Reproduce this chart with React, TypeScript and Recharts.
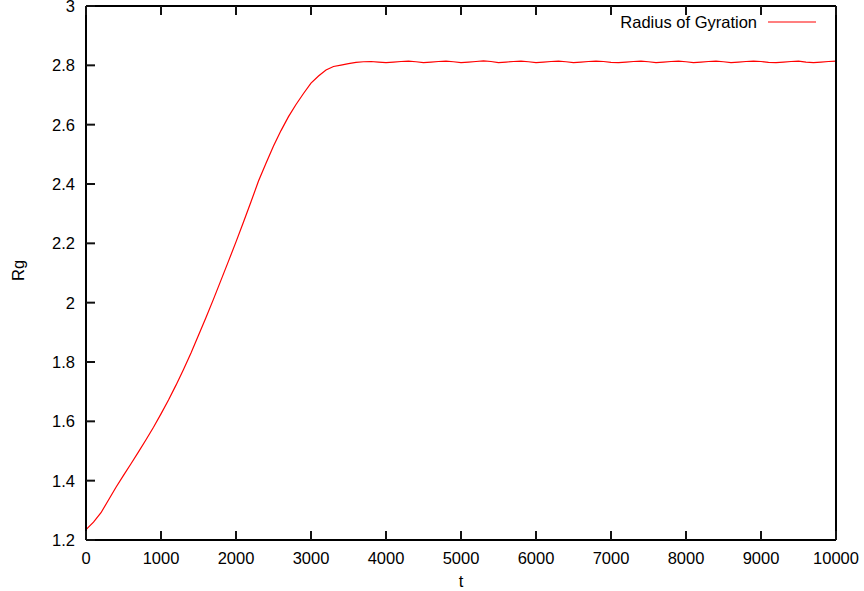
import { LineChart, Line, XAxis, YAxis } from "recharts";

// time steps and radius of gyration
const times = [
  0, 100, 200, 300, 400, 500, 600, 700, 800, 900,
  1000, 1100, 1200, 1300, 1400, 1500, 1600, 1700, 1800, 1900,
  2000, 2100, 2200, 2300, 2400, 2500, 2600, 2700, 2800, 2900,
  3000, 3100, 3200, 3300, 3400, 3500, 3600, 3700, 3800, 3900,
  4000, 4100, 4200, 4300, 4400, 4500, 4600, 4700, 4800, 4900,
  5000, 5100, 5200, 5300, 5400, 5500, 5600, 5700, 5800, 5900,
  6000, 6100, 6200, 6300, 6400, 6500, 6600, 6700, 6800, 6900,
  7000, 7100, 7200, 7300, 7400, 7500, 7600, 7700, 7800, 7900,
  8000, 8100, 8200, 8300, 8400, 8500, 8600, 8700, 8800, 8900,
  9000, 9100, 9200, 9300, 9400, 9500, 9600, 9700, 9800, 9900,
  10000,
];

const rg = [
  1.235, 1.26, 1.292, 1.335, 1.378, 1.418, 1.457, 1.497, 1.538, 1.58,
  1.625, 1.672, 1.722, 1.775, 1.83, 1.89, 1.95, 2.012, 2.076, 2.14,
  2.205, 2.272, 2.34, 2.41, 2.47, 2.528, 2.58, 2.627, 2.668, 2.705,
  2.74, 2.764, 2.784, 2.796, 2.801, 2.806, 2.81, 2.812, 2.813, 2.811,
  2.809, 2.811, 2.813, 2.814, 2.812, 2.809, 2.811, 2.813, 2.814, 2.812,
  2.809, 2.811, 2.813, 2.815, 2.813, 2.809, 2.811, 2.813, 2.814, 2.812,
  2.809, 2.811, 2.813, 2.814, 2.812, 2.809, 2.811, 2.813, 2.814, 2.813,
  2.81, 2.809, 2.811, 2.813, 2.814, 2.812, 2.809, 2.811, 2.813, 2.814,
  2.812, 2.809, 2.811, 2.813, 2.814, 2.812, 2.809, 2.811, 2.813, 2.814,
  2.813, 2.81, 2.809, 2.811, 2.813, 2.814, 2.811, 2.809, 2.811, 2.813,
  2.814,
];

const xTicks = [0, 1000, 2000, 3000, 4000, 5000, 6000, 7000, 8000, 9000, 10000];
const yTicks = [1.2, 1.4, 1.6, 1.8, 2, 2.2, 2.4, 2.6, 2.8, 3];

const seriesName = "Radius of Gyration";

const data = times.map((t, i) => ({ t, rg: rg[i] }));

const font = "'Liberation Sans', Arial, Helvetica, sans-serif";
const fontSize = 16.5;
const axisLine = { stroke: "#000", strokeWidth: 2 };
const tickColor = "#111";
const tickWidth = 2;
const TICK = 9;

const fmtY = (v: number) => String(+v.toFixed(1));

// gnuplot style ticks: drawn inward, labels outside
function BottomTick(props: any) {
  const { x, y, payload } = props;
  return (
    <g>
      <line x1={x} y1={y} x2={x} y2={y - TICK} stroke={tickColor} strokeWidth={tickWidth} />
      <text x={x} y={y + 12} dy="0.71em" textAnchor="middle" fontSize={fontSize} fontFamily={font} fill="#000">
        {payload.value}
      </text>
    </g>
  );
}

function LeftTick(props: any) {
  const { x, y, payload } = props;
  return (
    <g>
      <line x1={x} y1={y} x2={x + TICK} y2={y} stroke={tickColor} strokeWidth={tickWidth} />
      <text x={x - 11} y={y} dy="0.355em" textAnchor="end" fontSize={fontSize} fontFamily={font} fill="#000">
        {fmtY(payload.value)}
      </text>
    </g>
  );
}

function TopTick(props: any) {
  const { x, y } = props;
  return <line x1={x} y1={y} x2={x} y2={y + TICK} stroke={tickColor} strokeWidth={tickWidth} />;
}

function RightTick(props: any) {
  const { x, y } = props;
  return <line x1={x} y1={y} x2={x - TICK} y2={y} stroke={tickColor} strokeWidth={tickWidth} />;
}

export default function App() {
  return (
    <div style={{ position: "absolute", left: 0, top: 0, width: 864, height: 591, background: "#fff" }}>
      <LineChart width={864} height={591} data={data} margin={{ top: 5, right: 27, bottom: 0, left: 0 }}>
        <XAxis
          dataKey="t" type="number" domain={[0, 10000]} ticks={xTicks} height={51}
          tick={<BottomTick />} axisLine={axisLine} tickLine={false}
          tickSize={0} tickMargin={0} interval={0}
        />
        <XAxis
          xAxisId="top" orientation="top" dataKey="t" type="number" domain={[0, 10000]}
          ticks={xTicks} height={1} tick={<TopTick />} axisLine={axisLine} tickLine={false}
          tickSize={0} tickMargin={0} interval={0}
        />
        <YAxis
          type="number" domain={[1.2, 3]} ticks={yTicks} width={86}
          tick={<LeftTick />} axisLine={axisLine} tickLine={false}
          tickSize={0} tickMargin={0} interval={0}
        />
        <YAxis
          yAxisId="right" orientation="right" type="number" domain={[1.2, 3]} ticks={yTicks}
          width={1} tick={<RightTick />} axisLine={axisLine} tickLine={false}
          tickSize={0} tickMargin={0} interval={0}
        />
        <Line
          dataKey="rg" name={seriesName} type="linear" stroke="#ff0000" strokeWidth={1.2}
          dot={false} isAnimationActive={false}
        />
      </LineChart>
      {/* axis titles and key, gnuplot places them outside the frame */}
      <div style={{ position: "absolute", left: 8, top: 261, width: 20, height: 20, lineHeight: "20px",
        fontFamily: font, fontSize, transform: "rotate(-90deg)", textAlign: "center" }}>
        Rg
      </div>
      <div style={{ position: "absolute", left: 441, top: 571, width: 40, height: 20, lineHeight: "20px",
        fontFamily: font, fontSize, textAlign: "center" }}>
        t
      </div>
      <div style={{ position: "absolute", top: 12, right: 107, height: 20, lineHeight: "20px",
        fontFamily: font, fontSize, color: "#000", whiteSpace: "nowrap" }}>
        {seriesName}
      </div>
      <svg style={{ position: "absolute", left: 768, top: 12 }} width={48} height={20}>
        <line x1={0} y1={10} x2={48} y2={10} stroke="#ff0000" strokeWidth={1.2} />
      </svg>
    </div>
  );
}
